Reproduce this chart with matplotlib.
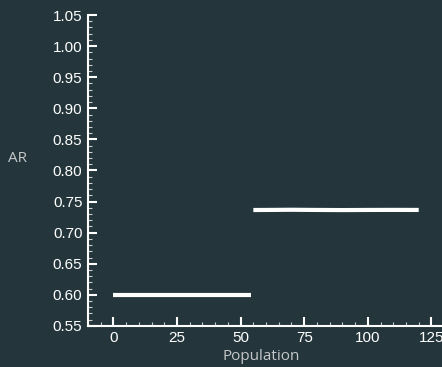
import matplotlib
matplotlib.use("Agg")
import matplotlib.pyplot as plt
from matplotlib.ticker import MultipleLocator, FormatStrFormatter

# AR vs population, two regimes
pop_low = [0, 54]
ar_low = [0.600, 0.600]

pop_high = [55, 60, 70, 80, 90, 100, 110, 120]
ar_high = [0.7364, 0.7365, 0.7368, 0.7365, 0.7363, 0.7365, 0.7366, 0.7365]

bg = "#24363b"

fig = plt.figure(figsize=(4.42, 3.67), dpi=100, facecolor=bg)
ax = fig.add_axes([0.199, 0.112, 0.803, 0.847])
ax.set_facecolor(bg)

ax.plot(pop_low, ar_low, color="white", lw=3, solid_capstyle="butt")
ax.plot(pop_high, ar_high, color="white", lw=3, solid_capstyle="butt")

ax.set_xlim(-10, 129.5)
ax.set_ylim(0.55, 1.05)
ax.xaxis.set_major_locator(MultipleLocator(25))
ax.xaxis.set_minor_locator(MultipleLocator(5))
ax.yaxis.set_major_locator(MultipleLocator(0.05))
ax.yaxis.set_minor_locator(MultipleLocator(0.01))
ax.yaxis.set_major_formatter(FormatStrFormatter("%.2f"))

for side in ["top", "right"]:
    ax.spines[side].set_visible(False)
for side in ["left", "bottom"]:
    ax.spines[side].set_color("white")
    ax.spines[side].set_linewidth(1.5)

ax.tick_params(which="major", direction="in", length=6.5, width=1.5,
               color="white", labelcolor="white", labelsize=11, pad=4)
ax.tick_params(which="minor", direction="in", length=3, width=0.8,
               color="#c8cccd")
for lab in ax.get_xticklabels() + ax.get_yticklabels():
    lab.set_family("Liberation Sans")

ax.set_xlabel("Population", color="#c4c8ca", fontsize=11, family="Open Sans")
ax.set_ylabel("AR", color="#c4c8ca", fontsize=11, family="Open Sans", rotation=0,
              ha="center", va="center")
ax.xaxis.set_label_coords(0.489, -0.075)
ax.yaxis.set_label_coords(-0.198, 0.54)
ax.xaxis.label.set_va("top")

fig.savefig("out.png", dpi=100, facecolor=bg)
